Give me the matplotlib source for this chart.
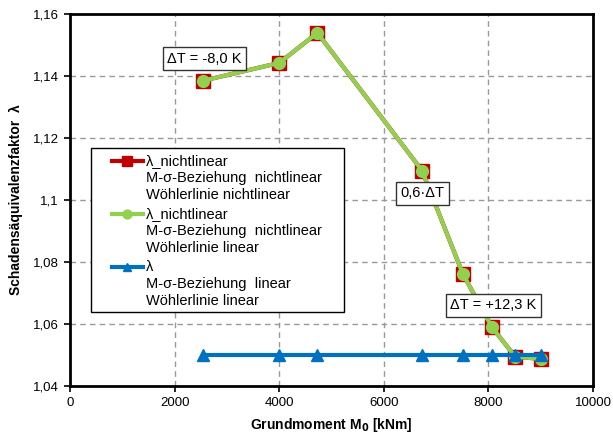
import matplotlib
matplotlib.use("Agg")
import numpy as np
import matplotlib.pyplot as plt
from matplotlib.ticker import FixedLocator, FuncFormatter
from matplotlib.legend_handler import HandlerLine2D
from matplotlib.patches import Rectangle

plt.rcParams['font.family'] = ['Liberation Sans', 'DejaVu Sans']

# Grundmoment M0 [kNm]
m0 = [2550, 4000, 4730, 6730, 7510, 8070, 8510, 9000]
# Schadensäquivalenzfaktor
lam_nl_nl = [1.1385, 1.1442, 1.1539, 1.1095, 1.0762, 1.0589, 1.0495, 1.0487]
lam_nl_lin = [1.1385, 1.1442, 1.1539, 1.1095, 1.0762, 1.0589, 1.0495, 1.0487]
lam_lin = [1.0500, 1.0500, 1.0500, 1.0500, 1.0500, 1.0500, 1.0500, 1.0500]

labels = [
    "λ_nichtlinear\nM-σ-Beziehung  nichtlinear\nWöhlerlinie nichtlinear",
    "λ_nichtlinear\nM-σ-Beziehung  nichtlinear\nWöhlerlinie linear",
    "λ\nM-σ-Beziehung  linear\nWöhlerlinie linear",
]

y_ticks = [1.04, 1.06, 1.08, 1.10, 1.12, 1.14, 1.16]
x_ticks = [0, 2000, 4000, 6000, 8000, 10000]

LEG_FS = 10.5
LEG_LS = 1.3


class FirstLineHandler(HandlerLine2D):
    """Short legend line on the right of the handle box, level with the first text line."""
    def get_xdata(self, legend, xdescent, ydescent, width, height, fontsize):
        x0 = -xdescent + width * 0.33
        x1 = -xdescent + width
        return [x0, x1], [(x0 + x1) / 2]

    def create_artists(self, legend, orig_handle, xdescent, ydescent, width, height,
                       fontsize, trans):
        arts = super().create_artists(legend, orig_handle, xdescent, ydescent, width,
                                      height, fontsize, trans)
        shift = fontsize * 1.16
        for a in arts:
            a.set_ydata(np.asarray(a.get_ydata()) + shift)
        return arts


fig = plt.figure(figsize=(6.13, 4.36), dpi=100)
ax = fig.add_axes([0.1142, 0.1147, 0.8532, 0.8533])

red = "#C00000"
green = "#92D050"
blue = "#0070C0"

l1, = ax.plot(m0, lam_nl_nl, color=red, lw=3, marker="s", ms=10, mfc=red, mec=red,
              label=labels[0], zorder=3)
l2, = ax.plot(m0, lam_nl_lin, color=green, lw=3, marker="o", ms=8.5, mfc=green, mec=green,
              label=labels[1], zorder=4)
l3, = ax.plot(m0, lam_lin, color=blue, lw=3, marker="^", ms=8, mfc=blue, mec=blue,
              label=labels[2], zorder=5)

ax.set_xlim(0, 10000)
ax.set_ylim(1.04, 1.16)
ax.xaxis.set_major_locator(FixedLocator(x_ticks))
ax.yaxis.set_major_locator(FixedLocator(y_ticks))
ax.yaxis.set_major_formatter(FuncFormatter(lambda v, p: f"{v:.2f}".rstrip("0").replace(".", ",")))
ax.xaxis.set_major_formatter(FuncFormatter(lambda v, p: f"{v:.0f}"))
ax.tick_params(direction="out", length=4, width=1.2, labelsize=9.5, colors="black", pad=4)

for v in [1.06, 1.08, 1.10, 1.12, 1.14]:
    ax.axhline(v, color="#999999", lw=1, ls=(0, (4, 3)), zorder=1)
for v in [2000, 4000, 6000, 8000]:
    ax.axvline(v, color="#999999", lw=1, ls=(0, (4, 3)), zorder=1)

for s in ax.spines.values():
    s.set_linewidth(2)
    s.set_color("black")

ax.set_xlabel("Grundmoment M$_\\mathbf{0}$ [kNm]", fontsize=10, fontweight="bold", labelpad=5)
ax.set_ylabel("Schadensäquivalenzfaktor  λ", fontsize=10, fontweight="bold", labelpad=7)

# legend frame
ax.add_patch(Rectangle((0.040, 0.199), 0.484, 0.441, transform=ax.transAxes,
                       fc="white", ec="black", lw=1, zorder=7))
leg = ax.legend(handles=[l1, l2, l3], loc="upper left", bbox_to_anchor=(0.040, 0.640),
                fontsize=LEG_FS, frameon=False, numpoints=1, markerscale=0.75,
                handlelength=3.15, handletextpad=0.2, labelspacing=0.3,
                borderpad=0.4, borderaxespad=0,
                handler_map={l: FirstLineHandler() for l in (l1, l2, l3)})
leg.set_zorder(8)
for t in leg.get_texts():
    t.set_linespacing(LEG_LS)

bbox = dict(boxstyle="square,pad=0.3", fc="white", ec="#333333", lw=1)
ax.text(2575, 1.1456, "ΔT = -8,0 K", fontsize=10.5, ha="center", va="center", bbox=bbox, zorder=6)
ax.text(6740, 1.1022, "0,6·ΔT", fontsize=10.5, ha="center", va="center", bbox=bbox, zorder=6)
ax.text(8092, 1.0660, "ΔT = +12,3 K", fontsize=10.5, ha="center", va="center", bbox=bbox, zorder=6)

fig.savefig("out.png", dpi=100)
